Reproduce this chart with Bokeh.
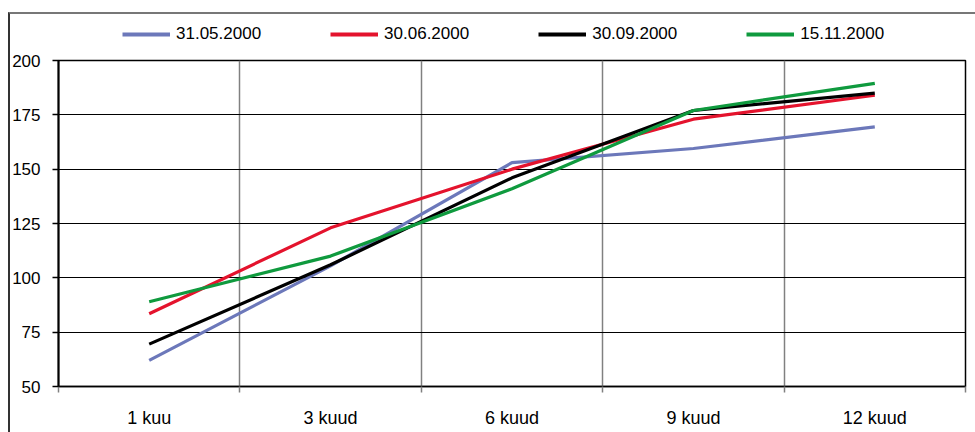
from bokeh.plotting import figure
from bokeh.layouts import column
from bokeh.models import FixedTicker, Legend, LegendItem, InlineStyleSheet, Range1d
from bokeh.embed import file_html
from bokeh.resources import INLINE

categories = ["1 kuu", "3 kuud", "6 kuud", "9 kuud", "12 kuud"]
series_names = ["31.05.2000", "30.06.2000", "30.09.2000", "15.11.2000"]
s_3105 = [62, 105.5, 153, 159.5, 169.5]
s_3006 = [83.5, 123, 150, 173, 184]
s_3009 = [69.5, 106, 146, 177, 185]
s_1511 = [89, 110, 141, 177, 189.5]
y_ticks = [50, 75, 100, 125, 150, 175, 200]
colors = ["#6c78ba", "#e4132d", "#000000", "#0f9a3e"]

xs = [i + 0.5 for i in range(len(categories))]
FONT = "Liberation Sans"
all_series = [s_3105, s_3006, s_3009, s_1511]

# ---- main chart ----
p = figure(width=975, height=382, output_backend="svg", toolbar_location=None,
           x_range=(0, len(categories)), y_range=(50, 200),
           min_border_left=58, min_border_right=10, min_border_bottom=46, min_border_top=10)
p.outline_line_color = "black"
p.outline_line_width = 1.5
p.background_fill_color = "white"

p.xaxis.ticker = FixedTicker(ticks=xs, minor_ticks=list(range(len(categories) + 1)))
p.xaxis.major_label_overrides = {x: c for x, c in zip(xs, categories)}
p.xaxis.major_tick_line_color = None
p.xaxis.major_tick_out = 0
p.xaxis.major_tick_in = 0
p.xaxis.minor_tick_line_color = "#808080"
p.xaxis.minor_tick_line_width = 1.5
p.xaxis.minor_tick_out = 6
p.xaxis.minor_tick_in = 0
p.xaxis.major_label_standoff = 15
p.xaxis.axis_line_color = "black"
p.xaxis.axis_line_width = 1.5
p.xaxis.major_label_text_font_size = "18px"

p.yaxis.ticker = FixedTicker(ticks=y_ticks)
p.yaxis.major_tick_out = 6
p.yaxis.major_tick_in = 0
p.yaxis.major_tick_line_color = "black"
p.yaxis.major_tick_line_width = 1.5
p.yaxis.minor_tick_line_color = None
p.yaxis.major_label_standoff = 12
p.yaxis.axis_line_color = "black"
p.yaxis.axis_line_width = 2
p.yaxis.major_label_text_font_size = "17px"

for ax in (p.xaxis, p.yaxis):
    ax.major_label_text_font = FONT
    ax.major_label_text_color = "black"

p.xgrid.ticker = FixedTicker(ticks=[1, 2, 3, 4])
p.xgrid.grid_line_color = "#808080"
p.xgrid.grid_line_width = 1.5
p.ygrid.ticker = FixedTicker(ticks=y_ticks)
p.ygrid.grid_line_color = "black"

for vals, col in zip(all_series, colors):
    p.line(xs, vals, line_color=col, line_width=3.2)

# ---- legend strip (its lines lie outside its view; only the legend shows) ----
lf = figure(width=975, height=50, output_backend="svg", toolbar_location=None,
            x_axis_type=None, y_axis_type=None, min_border=0,
            x_range=Range1d(-20, -10), y_range=Range1d(-20, -10))
lf.outline_line_color = None
lf.xgrid.visible = False
lf.ygrid.visible = False
items = []
for name, vals, col in zip(series_names, all_series, colors):
    r = lf.line(xs, vals, line_color=col, line_width=4)
    items.append(LegendItem(label=name, renderers=[r]))
legend = Legend(items=items, orientation="horizontal", location=(64, 6),
                glyph_width=48, glyph_height=18, label_standoff=6, spacing=69,
                label_text_font=FONT, label_text_font_size="17px", label_text_color="black",
                border_line_color=None, background_fill_alpha=0,
                padding=0, margin=0)
lf.add_layout(legend)

css = """
:host { position: relative; }
:host::after {
  content: ""; position: absolute; left: 8px; top: 12px; width: 980px; height: 440px;
  border-left: 2px solid #333333; border-top: 2px solid #777777;
  pointer-events: none; box-sizing: border-box;
}
"""
layout = column(lf, p, spacing=0, stylesheets=[InlineStyleSheet(css=css)])

open("out.html", "w").write(file_html(layout, INLINE))
